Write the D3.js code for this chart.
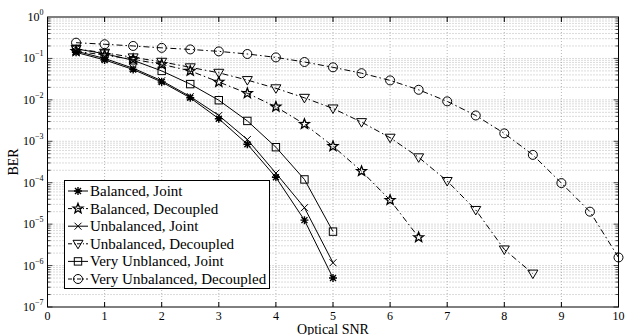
<!DOCTYPE html>
<html><head><meta charset="utf-8">
<script src="https://cdn.jsdelivr.net/npm/d3@7/dist/d3.min.js"></script>
<style>body{margin:0;background:#fff}svg{display:block}text{font-family:"Liberation Serif","Times New Roman",serif;fill:#000}</style>
</head><body><svg id="c" width="625" height="335"></svg>
<script>
const snrA = [0.5,1,1.5,2,2.5,3,3.5,4,4.5,5];
const balJoint = [0.14,0.092,0.054,0.027,0.0112,0.0035,8.5e-4,1.35e-4,1.25e-5,5.0e-7];
const unbJoint = [0.15,0.1,0.058,0.029,0.012,0.0042,1.1e-3,1.7e-4,2.5e-5,1.17e-6];
const vunbJoint = [0.17,0.13,0.09,0.05,0.024,0.0098,0.0031,7.2e-4,1.2e-4,6.6e-6];
const snrBD = [0.5,1,1.5,2,2.5,3,3.5,4,4.5,5,5.5,6,6.5];
const balDec = [0.15,0.12,0.095,0.072,0.05,0.027,0.0144,0.0068,0.0026,7.6e-4,1.9e-4,3.8e-5,4.8e-6];
const snrUD = [0.5,1,1.5,2,2.5,3,3.5,4,4.5,5,5.5,6,6.5,7,7.5,8,8.5];
const unbDec = [0.17,0.137,0.106,0.083,0.061,0.045,0.030,0.019,0.0112,0.0062,0.0029,0.00122,4.1e-4,1.1e-4,2.2e-5,2.45e-6,6.4e-7];
const snrVD = [0.5,1,1.5,2,2.5,3,3.5,4,4.5,5,5.5,6,6.5,7,7.5,8,8.5,9,9.5,10];
const vunbDec = [0.24,0.22,0.2,0.18,0.165,0.148,0.128,0.106,0.082,0.061,0.044,0.0295,0.0175,0.0092,0.0042,0.00155,4.7e-4,9.8e-5,2.0e-5,1.57e-6];
const legendLabels = ["Balanced, Joint","Balanced, Decoupled","Unbalanced, Joint","Unbalanced, Decoupled","Very Unblanced, Joint","Very Unbalanced, Decoupled"];
const xTicks = [0,1,2,3,4,5,6,7,8,9,10];
const yExps = [0,-1,-2,-3,-4,-5,-6,-7];

const series = [
 {x:snrA, y:balJoint, m:"ast", dash:null},
 {x:snrBD, y:balDec, m:"pent", dash:"6,3,1.5,3"},
 {x:snrA, y:unbJoint, m:"x", dash:null},
 {x:snrUD, y:unbDec, m:"tri", dash:"6,3,1.5,3"},
 {x:snrA, y:vunbJoint, m:"sq", dash:null},
 {x:snrVD, y:vunbDec, m:"circ", dash:"6,3,1.5,3"}
];

const L=47.5,R=618.5,T=17,B=307;
const x=d3.scaleLinear().domain([0,10]).range([L,R]);
const y=d3.scaleLog().domain([1e-7,1]).range([B,T]);
const svg=d3.select("#c");

// grid
const g=svg.append("g");
xTicks.slice(1,-1).forEach(t=>g.append("line").attr("x1",x(t)).attr("x2",x(t)).attr("y1",T).attr("y2",B)
  .attr("stroke","#999").attr("stroke-width",0.7).attr("stroke-dasharray","1,2"));
const minor=[];
for(let e=-7;e<0;e++) for(let k=1;k<10;k++){ minor.push({v:k*Math.pow(10,e),major:k===1}); }
minor.forEach(d=>{ if(d.v<=1e-7||d.v>=1) return;
  g.append("line").attr("x1",L).attr("x2",R).attr("y1",y(d.v)).attr("y2",y(d.v))
   .attr("stroke","#999").attr("stroke-width",0.7).attr("stroke-dasharray","1,2");
});

// frame & ticks
const ax=svg.append("g");
ax.append("rect").attr("x",L).attr("y",T).attr("width",R-L).attr("height",B-T).attr("fill","none").attr("stroke","#000").attr("stroke-width",1);
xTicks.forEach(t=>{
  ax.append("line").attr("x1",x(t)).attr("x2",x(t)).attr("y1",B).attr("y2",B-5).attr("stroke","#000");
  ax.append("line").attr("x1",x(t)).attr("x2",x(t)).attr("y1",T).attr("y2",T+5).attr("stroke","#000");
  ax.append("text").attr("x",x(t)).attr("y",B+13).attr("text-anchor","middle").attr("font-size",12).text(t);
});
minor.forEach(d=>{ if(d.v<1e-7||d.v>1) return;
  const len=d.major?5:3;
  ax.append("line").attr("x1",L).attr("x2",L+len).attr("y1",y(d.v)).attr("y2",y(d.v)).attr("stroke","#000").attr("stroke-width",0.7);
  ax.append("line").attr("x1",R).attr("x2",R-len).attr("y1",y(d.v)).attr("y2",y(d.v)).attr("stroke","#000").attr("stroke-width",0.7);
});
yExps.forEach(e=>{
  const yy=y(Math.pow(10,e));
  const t=ax.append("text").attr("x",L-4).attr("y",yy+4).attr("text-anchor","end").attr("font-size",12);
  t.append("tspan").text("10");
  t.append("tspan").attr("font-size",8).attr("dy",-6).text(e===0?"0":"\u2212"+(-e));
});
svg.append("text").attr("x",(L+R)/2).attr("y",333.5).attr("text-anchor","middle").attr("font-size",14).text("Optical SNR");
svg.append("text").attr("transform","translate(18,162) rotate(-90)").attr("text-anchor","middle").attr("font-size",14).text("BER");

function marker(sel,type,cx,cy){
  const s=sel.append("g").attr("transform",`translate(${cx},${cy})`).attr("fill","none").attr("stroke","#000").attr("stroke-width",1);
  if(type==="circ") s.append("circle").attr("r",4.5);
  else if(type==="sq") s.append("rect").attr("x",-3.7).attr("y",-3.7).attr("width",7.4).attr("height",7.4);
  else if(type==="tri") s.append("path").attr("d","M-5,-3.5L5,-3.5L0,5Z");
  else if(type==="x") s.append("path").attr("d","M-3.5,-3.5L3.5,3.5M-3.5,3.5L3.5,-3.5");
  else if(type==="ast") s.append("path").attr("d","M-4,0L4,0M0,-4L0,4M-3,-3L3,3M-3,3L3,-3").attr("stroke-width",1.4);
  else if(type==="pent"){
    const pts=[];for(let i=0;i<10;i++){const r=i%2?2.2:5.2;const a=-Math.PI/2+i*Math.PI/5;pts.push([r*Math.cos(a),r*Math.sin(a)]);}
    s.append("path").attr("d","M"+pts.map(p=>p.join(",")).join("L")+"Z").attr("stroke-width",1.3);
  }
}

const line=d3.line();
const pg=svg.append("g");
series.forEach(s=>{
  const pts=s.x.map((v,i)=>[x(v),y(s.y[i])]);
  pg.append("path").attr("d",line(pts)).attr("fill","none").attr("stroke","#000").attr("stroke-width",1)
    .attr("stroke-dasharray",s.dash);
  pts.forEach(p=>marker(pg,s.m,p[0],p[1]));
});

// legend
const lg=svg.append("g");
lg.append("rect").attr("x",64.5).attr("y",180.5).attr("width",205).attr("height",108).attr("fill","#fff").attr("stroke","#000").attr("stroke-width",1);
series.forEach((s,i)=>{
  const yy=191+i*17.6;
  lg.append("line").attr("x1",68).attr("x2",88).attr("y1",yy).attr("y2",yy).attr("stroke","#000").attr("stroke-dasharray",s.dash?"4,2,1,2":null);
  marker(lg,s.m,78,yy);
  lg.append("text").attr("x",90).attr("y",yy+5).attr("font-size",15).text(legendLabels[i]);
});
</script></body></html>
